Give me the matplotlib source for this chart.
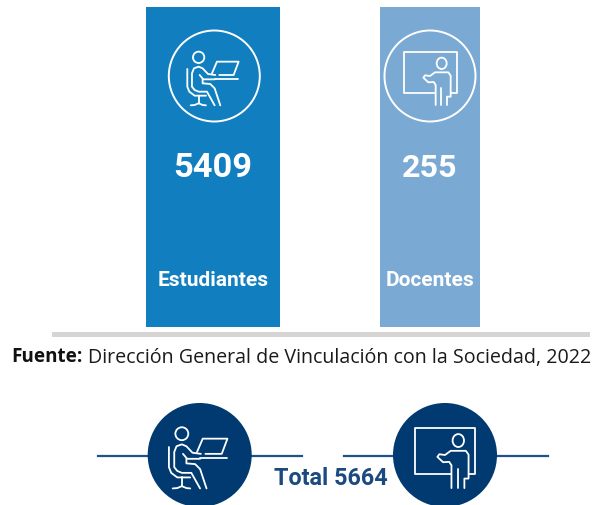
import matplotlib
matplotlib.use("Agg")
import matplotlib.pyplot as plt
from matplotlib.patches import Circle, Ellipse

categories = ["Estudiantes", "Docentes"]
values = [5409, 255]
source_label = "Fuente:"
source_text = "Dirección General de Vinculación con la Sociedad, 2022"

W, H = 606, 506
BLUE, LIGHT, NAVY, RULE, GREY = "#117fbf", "#7aaad4", "#003a70", "#1c5288", "#d6d5d3"
FONT = "Roboto"
SRC_FONT = "Open Sans"

fig = plt.figure(figsize=(W / 100, H / 100), dpi=100)
ax = fig.add_axes([0, 0, 1, 1])
ax.set_xlim(0, W)
ax.set_ylim(H - 1, -1)
ax.axis("off")

# Student and teacher pictograms, as strokes on a zoomed grid
STUDENT = {
    "origin": (147, 108), "head": (100, 52, 17, 17),
    "lines": [
        [(66, 87), (66, 140), (72, 155), (88, 167), (122, 167)],
        [(100, 167), (100, 190)],
        [(76, 196), (88, 195), (100, 190), (112, 195), (122, 196)],
        [(150, 105), (128, 102), (112, 85), (100, 80), (86, 85), (80, 100), (80, 140),
         (88, 150), (100, 155), (125, 155), (148, 196)],
        [(103, 105), (114, 118), (148, 118)],
        [(112, 118), (112, 130), (135, 132), (148, 145), (165, 196)],
        [(148, 117), (218, 117)],
        [(140, 100), (155, 65), (220, 65), (205, 105), (162, 105)],
    ],
}
TEACHER = {
    "origin": (135, 108), "head": (170, 70, 15, 17),
    "lines": [
        [(150, 158), (57, 158), (57, 36), (215, 36), (215, 158), (197, 158)],
        [(152, 195), (152, 135), (146, 126), (130, 127), (115, 113), (120, 106),
         (135, 108), (150, 97), (190, 97), (197, 107), (197, 170), (186, 170), (186, 195)],
        [(168, 145), (168, 195)],
    ],
}


def icon(spec, cx, cy, scale, lw):
    ox, oy = spec["origin"]
    k = scale / 3
    for pts in spec["lines"]:
        ax.plot([cx + (x - ox) * k for x, _ in pts], [cy + (y - oy) * k for _, y in pts],
                color="white", lw=lw, solid_joinstyle="round", solid_capstyle="round", zorder=5)
    hx, hy, rx, ry = spec["head"]
    ax.add_patch(Ellipse((cx + (hx - ox) * k, cy + (hy - oy) * k), 2 * rx * k, 2 * ry * k,
                         fill=False, ec="white", lw=lw, zorder=5))


# Top panels
centers = [213, 430]
widths = [134, 100]
colors = [BLUE, LIGHT]
icon_cx = [214.3, 430]
specs = [STUDENT, TEACHER]
num_sizes = [24.8, 23.2]
ax.bar(centers, [-320] * 2, bottom=327, width=widths, color=colors, linewidth=0, zorder=1)
for c, ic, sp, v, name, fs in zip(centers, icon_cx, specs, values, categories, num_sizes):
    ax.add_patch(Circle((ic, 76), 45.5, fill=False, ec="white", lw=1.4, zorder=4))
    icon(sp, ic, 76, 1.0, 1.3)
    ax.text(c, 167, str(v), color="white", fontsize=fs, fontweight="bold", family=FONT,
            ha="center", va="center", zorder=4)
    ax.text(c, 279, name, color="white", fontsize=15, fontweight="bold", family=FONT,
            ha="center", va="center", zorder=4)

ax.fill_between([52, 590], 332, 337, color=GREY, linewidth=0)

# Source line
ax.text(11.5, 356.5, source_label, color="#111111", fontsize=13.6, fontweight="bold",
        family=SRC_FONT, ha="left", va="center")
ax.text(88, 356.5, source_text, color="#1a1a1a", fontsize=14.15, family=SRC_FONT,
        ha="left", va="center")

# Bottom summary
ax.plot([97.5, 302], [455.5, 455.5], color=RULE, lw=1.6, zorder=1)
ax.plot([343.5, 547.5], [455.5, 455.5], color=RULE, lw=1.6, zorder=1)
for cx, sp in zip([199.7, 445], specs):
    ax.add_patch(Circle((cx, 455), 52, fc=NAVY, ec="none", zorder=2))
    icon(sp, cx, 455, 1.14, 1.3)
ax.text(331, 477.5, f"Total {sum(values)}", color="#1b4a80", fontsize=16.8, fontweight="bold",
        family=FONT, ha="center", va="center")

fig.savefig("out.png", dpi=100)
